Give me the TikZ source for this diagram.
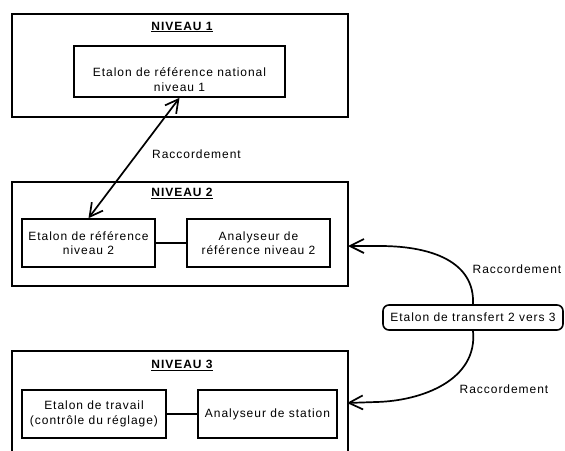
\documentclass[tikz,border=0pt]{standalone}
\usepackage{fontspec}
\setmainfont{Liberation Sans}[LetterSpace=8]
\usetikzlibrary{arrows.meta,calc}
\newcommand{\txtfont}{\fontsize{12}{14.5}\selectfont}
\begin{document}
\begin{tikzpicture}[x=1pt,y=-1pt,
  lvl/.style={draw, line width=1.6pt, minimum width=336pt, inner sep=0pt},
  box/.style={draw, line width=1.6pt, inner sep=0pt, align=center, font=\txtfont},
  ttl/.style={inner sep=0pt, font=\txtfont\bfseries},
  lbl/.style={inner sep=0pt, align=center, font=\txtfont},
  link/.style={line width=1.7pt, -{Straight Barb[length=14pt,width=14pt]}},
  dlink/.style={line width=1.7pt, {Straight Barb[length=13pt,width=14pt]}-{Straight Barb[length=13pt,width=14pt]}},
  tie/.style={line width=1.6pt},
  transfer/.style={draw, line width=1.6pt, rounded corners=6pt, inner sep=0pt, minimum width=180pt, minimum height=25pt, font=\txtfont}
]
\useasboundingbox (0,0) rectangle (565,450);
\clip (0,0) rectangle (565,450);
\fill[white] (0,0) rectangle (565,450);

% Niveau 1
\node[lvl, minimum height=103pt] (L1) at (180,65.5) {};
\node[ttl] (T1) at (182,27) {\underline{NIVEAU 1}};
\node[box, minimum width=211pt, minimum height=51pt] (E1) at (179.5,71.5) {};
\node[lbl] (E1t) at (179.5,79.5) {Etalon de référence national\\niveau 1};

% Niveau 2
\node[lvl, minimum height=104pt] (L2) at (180,234) {};
\node[ttl] (T2) at (182,193.5) {\underline{NIVEAU 2}};
\node[box, minimum width=133pt, minimum height=48pt] (E2) at (88.5,243) {Etalon de référence\\niveau 2};
\node[box, minimum width=143pt, minimum height=48pt] (A2) at (258.5,243) {Analyseur de\\référence niveau 2};

% Niveau 3
\node[lvl, minimum height=130pt] (L3) at (180,416) {};
\node[ttl] (T3) at (182,365.5) {\underline{NIVEAU 3}};
\node[box, minimum width=144pt, minimum height=48pt] (E3) at (94,414) {Etalon de travail\\(contrôle du réglage)};
\node[box, minimum width=139pt, minimum height=48pt] (A3) at (267.5,414) {Analyseur de station};

% Transfer
\node[transfer] (T) at (473,317.5) {Etalon de transfert 2 vers 3};

% Labels
\node[lbl] (R1) at (196.5,154) {Raccordement};
\node[lbl] (R2) at (517,269) {Raccordement};
\node[lbl] (R3) at (504,389) {Raccordement};

% Connectors
\draw[dlink] (E1.south) -- (E2.north);
\draw[tie] (E2.east) -- (A2.west);
\draw[tie] (E3.east) -- (A3.west);

\coordinate (t2) at (348,246);
\coordinate (t3) at (347,403);
\draw[link] (T.north) .. controls (475,262) and (432,246) .. (380,246) -- (t2);
\draw[link] (T.south) .. controls (478,380) and (422,401) .. (376,402) -- (t3);
\end{tikzpicture}
\end{document}
